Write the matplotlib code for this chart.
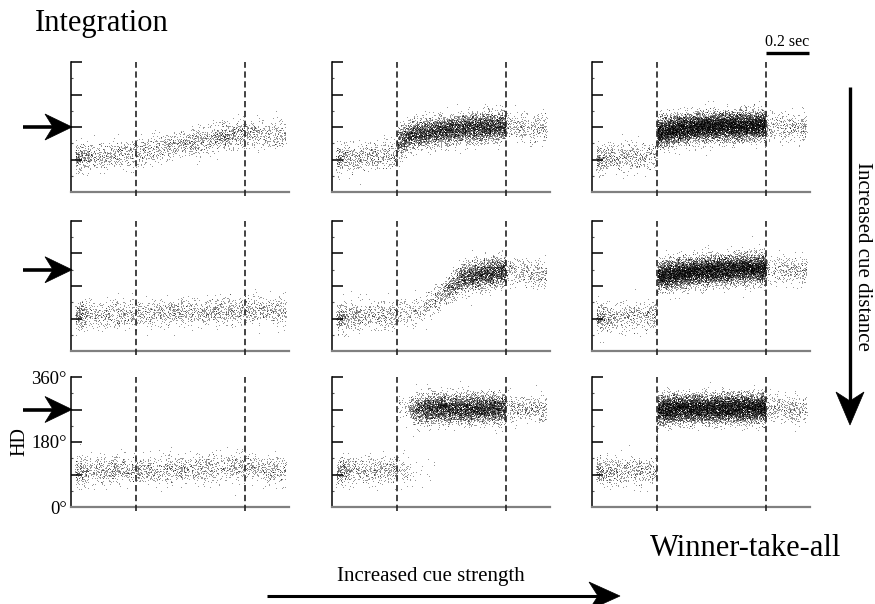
import numpy as np
import matplotlib
matplotlib.use("Agg")
import matplotlib.pyplot as plt
from matplotlib.patches import Polygon
from matplotlib.lines import Line2D
from matplotlib.ticker import MultipleLocator

plt.rcParams['font.family'] = ['Liberation Serif', 'DejaVu Serif']
plt.rcParams['lines.scale_dashes'] = False

# ---------------- data ----------------
# knot times (s) at which the bump position (deg) and spike density (points/s) are read
TK = [0.02, 0.10, 0.20, 0.299, 0.301, 0.35, 0.40, 0.50, 0.60, 0.70, 0.799, 0.801, 0.90, 0.99]
CUE_ON, CUE_OFF = 0.3, 0.8
CUE_DEG = [180, 225, 270]          # cue direction per row (arrows)
YTICK_LABELS = ["0°", "", "180°", "", "360°"]

# row 1 (cue at 180°)
r1c1_mean = [93, 96, 100, 105, 105, 112, 120, 132, 142, 153, 162, 162, 160, 158]
r1c1_rate = [4200, 1900, 1800, 1800, 1900, 1900, 2000, 2200, 2500, 2800, 3000, 1700, 1700, 1700]
r1c2_mean = [92, 94, 97, 100, 135, 152, 160, 168, 174, 178, 180, 180, 178, 178]
r1c2_rate = [4200, 1900, 1800, 1800, 8000, 9000, 10000, 11000, 11500, 12000, 12000, 1700, 1700, 1700]
r1c3_mean = [92, 94, 97, 100, 160, 168, 173, 178, 181, 182, 182, 182, 180, 180]
r1c3_rate = [4200, 1900, 1800, 1800, 18000, 19000, 19000, 19000, 19000, 19000, 19000, 1700, 1700, 1700]
# row 2 (cue at 225°)
r2c1_mean = [96, 98, 100, 102, 102, 103, 104, 106, 108, 111, 114, 114, 110, 108]
r2c1_rate = [4200, 1900, 1800, 1800, 1800, 1800, 1800, 1800, 1900, 1900, 1900, 1700, 1700, 1700]
r2c2_mean = [92, 94, 96, 98, 98, 100, 112, 150, 200, 212, 220, 220, 215, 212]
r2c2_rate = [4200, 1900, 1800, 1800, 1300, 1100, 1100, 2500, 8000, 10500, 11000, 1700, 1700, 1700]
r2c3_mean = [92, 94, 96, 98, 205, 210, 213, 219, 223, 225, 227, 227, 222, 220]
r2c3_rate = [4200, 1900, 1800, 1800, 16000, 18000, 18000, 18000, 18000, 18000, 18000, 1700, 1700, 1700]
# row 3 (cue at 270°)
r3c1_mean = [97, 98, 99, 100, 100, 101, 102, 104, 106, 108, 110, 110, 103, 98]
r3c1_rate = [4200, 1900, 1800, 1800, 1800, 1800, 1800, 1800, 1900, 1900, 1900, 1700, 1700, 1700]
r3c2_old_mean = [97, 98, 99, 100, 100, 102, 104, 104, 104, 104, 104, 104, 104, 104]
r3c2_old_rate = [4200, 1900, 1800, 1800, 1100, 700, 150, 0, 0, 0, 0, 0, 0, 0]
r3c2_new_mean = [270, 270, 270, 270, 268, 268, 270, 271, 271, 271, 271, 271, 270, 270]
r3c2_new_rate = [0, 0, 0, 0, 400, 900, 10000, 12000, 12000, 12000, 12000, 1700, 1700, 1700]
r3c3_mean = [97, 98, 99, 100, 265, 268, 270, 271, 272, 272, 272, 272, 270, 270]
r3c3_rate = [4200, 1900, 1800, 1800, 18000, 18000, 18000, 18000, 18000, 18000, 18000, 1700, 1700, 1700]

SPREAD_DEG = 19.0   # width of the activity bump

PANELS = [
    [[(r1c1_mean, r1c1_rate)], [(r1c2_mean, r1c2_rate)], [(r1c3_mean, r1c3_rate)]],
    [[(r2c1_mean, r2c1_rate)], [(r2c2_mean, r2c2_rate)], [(r2c3_mean, r2c3_rate)]],
    [[(r3c1_mean, r3c1_rate)], [(r3c2_old_mean, r3c2_old_rate), (r3c2_new_mean, r3c2_new_rate)],
     [(r3c3_mean, r3c3_rate)]],
]

# ---------------- figure ----------------
W, H = 875, 604
fig = plt.figure(figsize=(W / 100, H / 100), dpi=100)


def fx(px):
    return px / W


def fy(py):
    return 1 - py / H


def hash01(idx, salt):
    """Deterministic integer hash (splitmix64) -> [0, 1) used only for dot texture."""
    x = idx.astype(np.uint64) + np.uint64(salt)
    x = x * np.uint64(0x9E3779B97F4A7C15)
    x ^= x >> np.uint64(30)
    x = x * np.uint64(0xBF58476D1CE4E5B9)
    x ^= x >> np.uint64(27)
    x = x * np.uint64(0x94D049BB133111EB)
    x ^= x >> np.uint64(31)
    return (x >> np.uint64(11)).astype(np.float64) / float(2 ** 53)


def cloud(mean, rate, salt):
    tg = np.linspace(TK[0], TK[-1], 6001)
    rg = np.interp(tg, TK, rate)
    cdf = np.concatenate([[0], np.cumsum(0.5 * (rg[1:] + rg[:-1]) * np.diff(tg))])
    n = int(cdf[-1])
    if n == 0:
        return np.array([]), np.array([])
    idx = np.arange(n)
    a = hash01(idx, salt * 3 + 1)
    b = np.clip(hash01(idx, salt * 3 + 7919), 1e-9, 1)
    c = hash01(idx, salt * 3 + 104729)
    t = np.interp(a * cdf[-1], cdf, tg)
    z = np.sqrt(-2 * np.log(b)) * np.cos(2 * np.pi * c)
    y = np.interp(t, TK, mean) + SPREAD_DEG * z
    return t, y


lefts = [71, 332, 592]
tops = [62, 221, 377]
aw, ah = 218, 130
axes = [[None] * 3 for _ in range(3)]
k = 0
with np.errstate(over='ignore'):
    for r in range(3):
        for c in range(3):
            ax = fig.add_axes([fx(lefts[c]), fy(tops[r] + ah), fx(aw), ah / H])
            axes[r][c] = ax
            for comp in PANELS[r][c]:
                k += 1
                t, y = cloud(comp[0], comp[1], k * 1000)
                ax.plot(t, y, ',', color='black', alpha=0.4, zorder=1)
            for xv in (CUE_ON, CUE_OFF):
                ax.axvline(xv, ymin=-0.03, ymax=1.0, color='#222222', lw=1.2,
                           linestyle=(0, (4.5, 2.6)), clip_on=False, zorder=3)
            ax.set_xlim(0, 1.005)
            ax.set_ylim(0, 360)
            ax.set_xticks([])
            ax.set_yticks([0, 90, 180, 270, 360])
            ax.yaxis.set_minor_locator(MultipleLocator(45))
            ax.tick_params(axis='y', which='major', direction='in', length=8, width=1.1,
                           color='black', pad=3, labelsize=13.5)
            ax.tick_params(axis='y', which='minor', direction='in', length=1.5, width=0.8,
                           color='#555')
            if r == 2 and c == 0:
                ax.set_yticklabels(YTICK_LABELS)
            else:
                ax.set_yticklabels([])
            for s in ('top', 'right'):
                ax.spines[s].set_visible(False)
            ax.spines['left'].set_linewidth(1.1)
            ax.spines['bottom'].set_color('#808080')
            ax.spines['bottom'].set_linewidth(1.6)
            ax.patch.set_alpha(0)
            for tl in ax.yaxis.get_major_ticks():
                tl.tick1line.set_clip_on(False)

fig.canvas.draw()


def arrow(x0, y0, x1, y1, head_len, head_half, notch, lw):
    """Arrow in figure pixels (y down)."""
    d = np.array([x1 - x0, y1 - y0], float)
    L = np.hypot(*d)
    u = d / L
    n = np.array([-u[1], u[0]])
    tip = np.array([x1, y1], float)
    back = tip - u * head_len
    p1 = back + n * head_half
    p2 = back - n * head_half
    pn = tip - u * (head_len - notch)
    shaft_end = pn + u * 2
    fig.add_artist(Line2D([fx(x0), fx(shaft_end[0])], [fy(y0), fy(shaft_end[1])],
                          color='black', lw=lw, solid_capstyle='butt'))
    pts = [tip, p1, pn, p2]
    fig.add_artist(Polygon([(fx(p[0]), fy(p[1])) for p in pts], closed=True,
                           facecolor='black', edgecolor='black', lw=0.5))


# cue arrows on the left of each row (position from data)
for r in range(3):
    ax = axes[r][0]
    _, ypix = ax.transData.transform((0, CUE_DEG[r]))
    ypx = H - ypix
    arrow(23, ypx, 72, ypx, 27, 13, 8, 2.6)

# big arrows
arrow(850, 87, 850, 425, 33, 14, 9, 2.4)
arrow(267, 596, 620, 596, 31, 14, 9, 2.2)

# texts
fig.text(fx(35), fy(31), "Integration", fontsize=22, ha='left', va='baseline')
fig.text(fx(650), fy(556), "Winner-take-all", fontsize=22, ha='left', va='baseline')
fig.text(fx(431), fy(577), "Increased cue strength", fontsize=15, ha='center', va='center')
fig.text(fx(863), fy(256), "Increased cue distance", fontsize=15, ha='center', va='center',
         rotation=-90)
fig.text(fx(20), fy(442), "HD", fontsize=14.5, ha='center', va='center', rotation=90)

# 0.2 s scale bar, in data units of the top-right panel
axr = axes[0][2]
x0p, _ = axr.transData.transform((CUE_OFF, 0))
x1p, _ = axr.transData.transform((CUE_OFF + 0.2, 0))
fig.add_artist(Line2D([x0p / W, x1p / W], [fy(53), fy(53)], color='black', lw=2.4,
                      solid_capstyle='butt'))
fig.text((x0p + x1p) / 2 / W, fy(42), "0.2 sec", fontsize=11.5, ha='center', va='center')

fig.savefig("out.png", dpi=100)
